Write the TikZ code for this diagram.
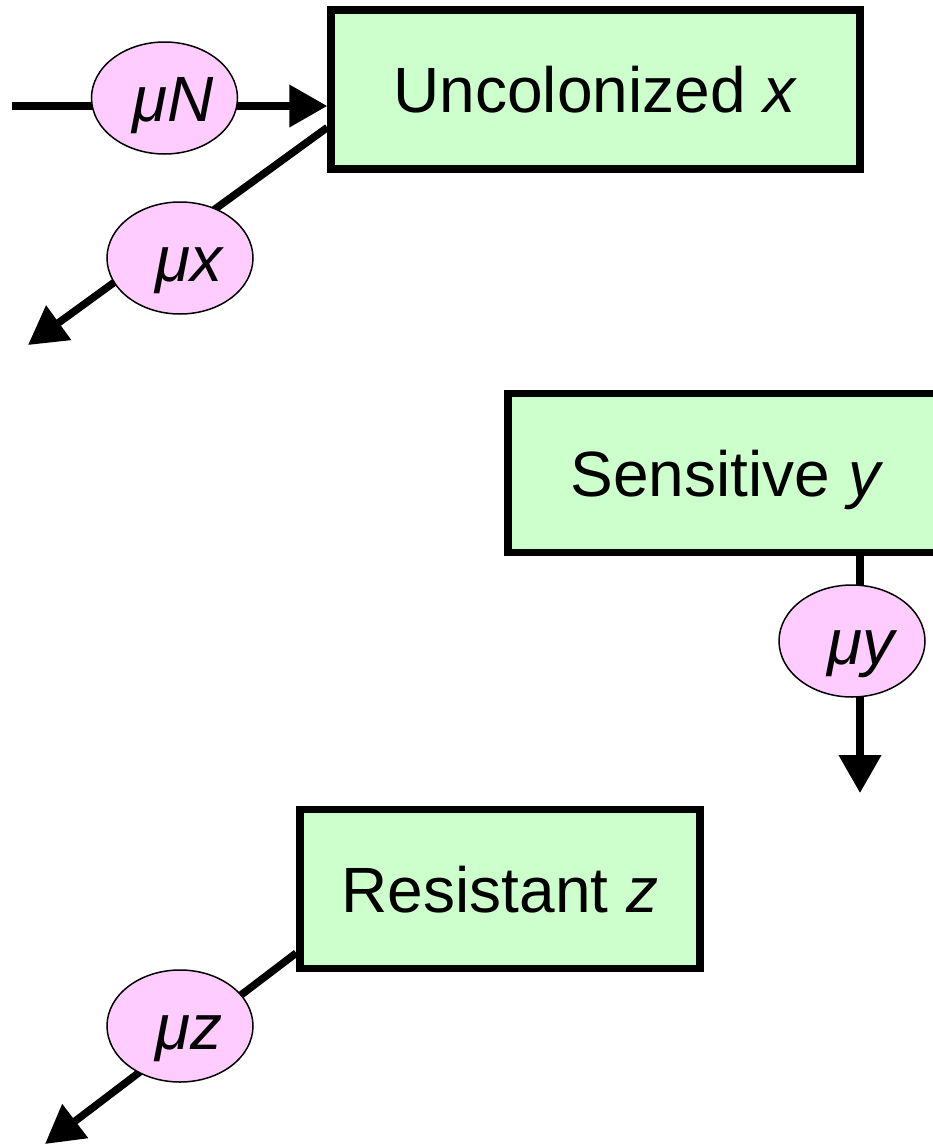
\documentclass[tikz,border=0pt]{standalone}
\usepackage{fontspec}
\setmainfont{Liberation Sans}
\usepackage{xcolor}
\usetikzlibrary{arrows.meta,shapes.geometric}
\definecolor{boxgreen}{HTML}{CCFFCC}
\definecolor{ratepink}{HTML}{FFCCFF}

\begin{document}
\begin{tikzpicture}[x=1pt,y=-1pt,
  compartment/.style={draw,line width=7.5pt,fill=boxgreen,inner sep=0pt,minimum height=159pt,text height=46pt,text depth=0pt,font=\fontsize{64}{70}\selectfont},
  rate/.style={ellipse,draw,line width=1.5pt,fill=ratepink,inner sep=0pt,minimum width=146pt,minimum height=112pt,text height=46pt,text depth=0pt,font=\fontsize{64}{70}\selectfont\itshape},
  flow/.style={line width=7.5pt,-{Triangle[length=38pt,width=41pt]}}]
\useasboundingbox (0,0) rectangle (933,1146);

%Draw compartments
\node[compartment,minimum width=529pt] (ux) at (595.5,89.5) {Uncolonized \textit{x}};
\node[compartment,minimum width=438pt] (sy) at (727,473) {Sensitive \textit{y}};
\node[compartment,minimum width=400pt] (rz) at (500,889) {Resistant \textit{z}};

%Draw free ends of the flows
\coordinate (nsource) at (12,106);
\coordinate (xsink) at (28,345);
\coordinate (ysink) at (860,793);
\coordinate (zsink) at (45,1144);

%Draw flows
\draw[flow] (nsource) -- (nsource -| ux.west);
\draw[flow] ([yshift=-38pt]ux.west) -- (xsink);
\draw[flow] (ysink |- sy.south) -- (ysink);
\draw[flow] ([yshift=-64pt]rz.west) -- (zsink);

%Draw rate blobs
\node[rate] (birth) at (164.5,98) {\hspace{18pt}μN};
\node[rate] (xdeath) at (180,258) {\hspace{18pt}μx};
\node[rate] (ydeath) at (852,641) {\hspace{18pt}μy};
\node[rate] (zdeath) at (180,1026) {\hspace{18pt}μz};
\end{tikzpicture}
\end{document}
